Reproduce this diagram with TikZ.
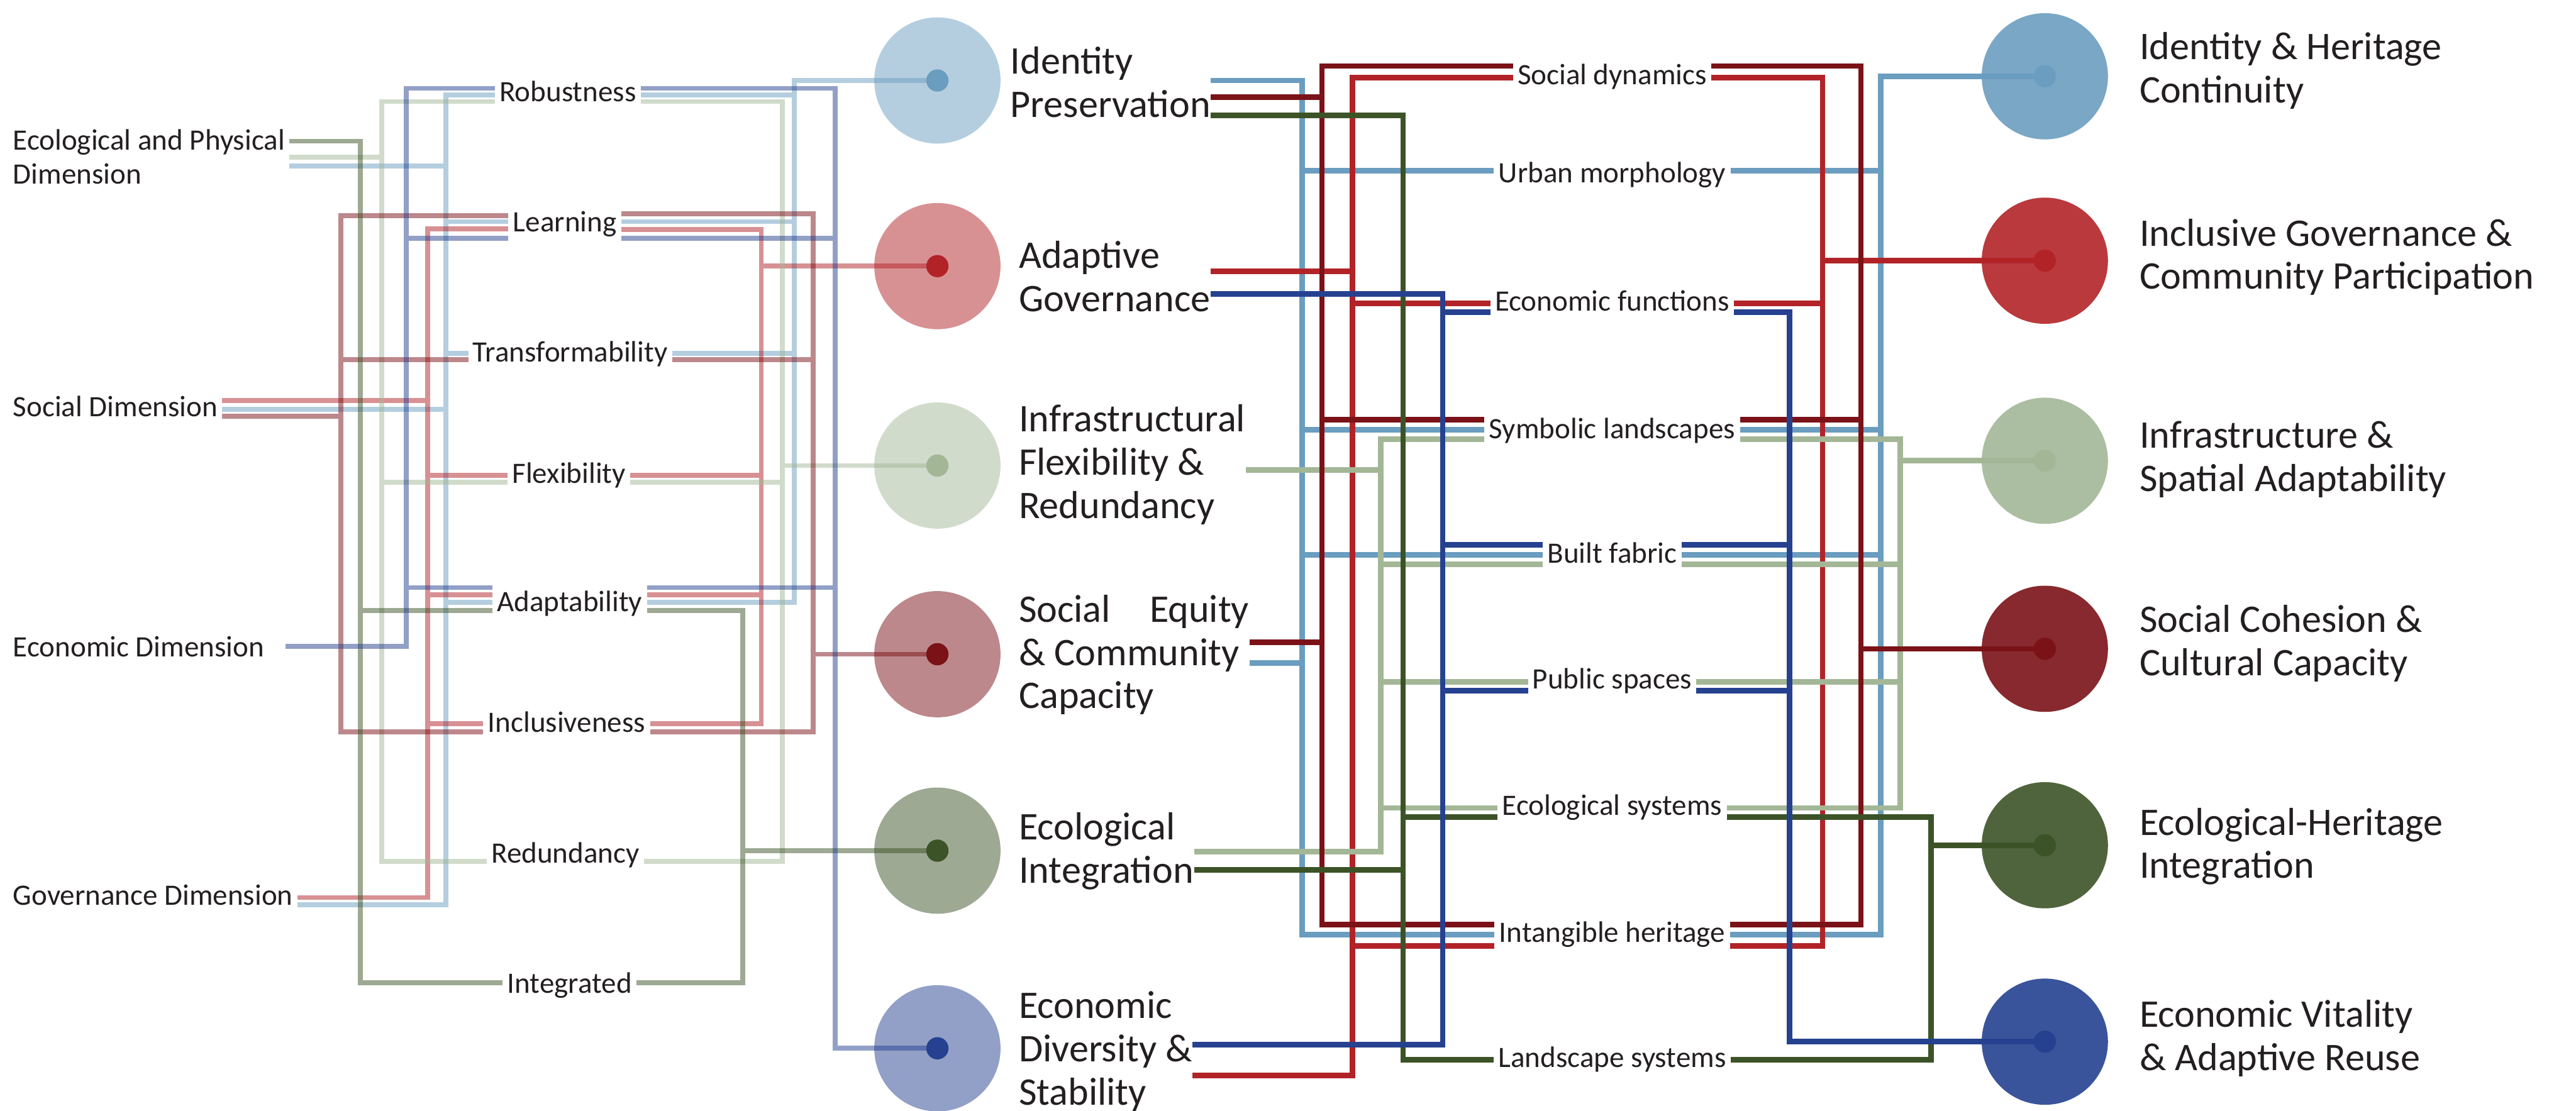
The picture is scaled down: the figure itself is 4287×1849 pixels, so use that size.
\documentclass[tikz,border=0pt]{standalone}
\usepackage{fontspec}
\setmainfont{Carlito}
\usetikzlibrary{positioning}
\definecolor{cBlue}{HTML}{6A9DBF}
\definecolor{cRed}{HTML}{B22328}
\definecolor{cSage}{HTML}{A3B797}
\definecolor{cWine}{HTML}{7A1217}
\definecolor{cFor}{HTML}{3C5327}
\definecolor{cNavy}{HTML}{254190}
\definecolor{ink}{HTML}{231F20}
\tikzset{
  lbl/.style={font=\fontsize{14}{16.2}\selectfont, text=ink, inner xsep=2pt, inner ysep=0pt},
  big/.style={font=\fontsize{18.5}{20.5}\selectfont, text=ink, align=left, anchor=west, inner sep=0pt},
  disc/.style={circle, minimum size=2.1cm, inner sep=0pt, fill=#1, fill opacity=0.5},
  rdisc/.style={circle, minimum size=2.1cm, inner sep=0pt, fill=#1, fill opacity=0.9},
  core/.style={circle, minimum size=0.37cm, inner sep=0pt, fill=#1},
  pale/.style={draw=#1, draw opacity=0.5, line width=2.3pt},
  wire/.style={draw=#1, line width=2.6pt},
}

\begin{document}
\begin{tikzpicture}[x=0.01cm, y=-0.01cm]
  \useasboundingbox (0,0) rectangle (4287,1849);

  % dimensions
  \node[lbl, anchor=west, align=left] (dEco) at (14,261) {Ecological and Physical\\Dimension};
  \node[lbl, anchor=base west] (dSoc) at (14,693) {Social Dimension};
  \node[lbl, anchor=base west, inner xsep=10pt] (dEcon) at (-14,1093) {Economic Dimension};
  \node[lbl, anchor=base west] (dGov) at (14,1507) {Governance Dimension};

  % indicators
  \node[lbl, anchor=base] (iRob) at (945,169) {Robustness};
  \node[lbl, anchor=base] (iLea) at (940,386) {Learning};
  \node[lbl, anchor=base] (iTra) at (949,602) {Transformability};
  \node[lbl, anchor=base] (iFle) at (947,804) {Flexibility};
  \node[lbl, anchor=base] (iAda) at (948,1018) {Adaptability};
  \node[lbl, anchor=base] (iInc) at (943,1219) {Inclusiveness};
  \node[lbl, anchor=base] (iRed) at (941,1436) {Redundancy};
  \node[lbl, anchor=base] (iInt) at (948,1653) {Integrated};

  % middle circles
  \node[disc=cBlue] (c1) at (1560,134) {};
  \node[disc=cRed] (c2) at (1560,443) {};
  \node[disc=cSage] (c3) at (1560,775) {};
  \node[disc=cWine] (c4) at (1560,1089) {};
  \node[disc=cFor] (c5) at (1560,1416) {};
  \node[disc=cNavy] (c6) at (1560,1745) {};

  \node[big] (t1) at (1681,137) {Identity\\Preservation};
  \node[big] (t2) at (1695,460) {Adaptive\\Governance};
  \node[big] (t3) at (1695,773) {Infrastructural\\Flexibility \&\\Redundancy};
  \node[big] (t4) at (1695,1090) {Social\hspace{1em}Equity\\\& Community\\Capacity};
  \node[big] (t5) at (1695,1417) {Ecological\\Integration};
  \node[big] (t6) at (1695,1750) {Economic\\Diversity \&\\Stability};

  % attributes
  \node[lbl, anchor=base] (aSoc) at (2683,141) {Social dynamics};
  \node[lbl, anchor=base] (aUrb) at (2683,304) {Urban morphology};
  \node[lbl, anchor=base] (aEco) at (2683,518) {Economic functions};
  \node[lbl, anchor=base] (aSym) at (2683,730) {Symbolic landscapes};
  \node[lbl, anchor=base] (aBui) at (2683,937) {Built fabric};
  \node[lbl, anchor=base] (aPub) at (2683,1147) {Public spaces};
  \node[lbl, anchor=base] (aEcs) at (2683,1357) {Ecological systems};
  \node[lbl, anchor=base] (aInt) at (2683,1568) {Intangible heritage};
  \node[lbl, anchor=base] (aLan) at (2683,1777) {Landscape systems};

  % right circles
  \node[rdisc=cBlue] (r1) at (3403,127) {};
  \node[rdisc=cRed] (r2) at (3403,434) {};
  \node[rdisc=cSage] (r3) at (3403,767) {};
  \node[rdisc=cWine] (r4) at (3403,1080) {};
  \node[rdisc=cFor] (r5) at (3403,1407) {};
  \node[rdisc=cNavy] (r6) at (3403,1734) {};

  \node[big] (u1) at (3560,118) {Identity \& Heritage\\Continuity};
  \node[big] (u2) at (3560,428) {Inclusive Governance \&\\Community Participation};
  \node[big] (u3) at (3560,765) {Infrastructure \&\\Spatial Adaptability};
  \node[big] (u4) at (3560,1071) {Social Cohesion \&\\Cultural Capacity};
  \node[big] (u5) at (3560,1409) {Ecological-Heritage\\Integration};
  \node[big] (u6) at (3560,1728) {Economic Vitality\\\& Adaptive Reuse};

  % left half, one bus per colour
  \draw[pale=cBlue]
    (dEco.east |- 0,276) -- (742,276)
    (dSoc.east |- 0,681) -- (742,681)
    (dGov.east |- 0,1506) -- (742,1506) -- (742,158) -- (iRob.west |- 0,158)
    (742,369) -- (iLea.west |- 0,369)
    (742,588) -- (iTra.west |- 0,588)
    (742,1003) -- (iAda.west |- 0,1003)
    (iRob.east |- 0,158) -- (1322,158)
    (iLea.east |- 0,369) -- (1322,369)
    (iTra.east |- 0,588) -- (1322,588)
    (iAda.east |- 0,1003) -- (1322,1003) -- (1322,134) -- (c1.center);
  \draw[pale=cRed]
    (dSoc.east |- 0,667) -- (712,667)
    (dGov.east |- 0,1494) -- (712,1494) -- (712,381) -- (iLea.west |- 0,381)
    (712,791) -- (iFle.west |- 0,791)
    (712,990) -- (iAda.west |- 0,990)
    (712,1205) -- (iInc.west |- 0,1205)
    (iLea.east |- 0,382) -- (1267,382) -- (1267,1205) -- (iInc.east |- 0,1205)
    (iFle.east |- 0,791) -- (1267,791)
    (iAda.east |- 0,990) -- (1267,990)
    (1267,443) -- (c2.center);
  \draw[pale=cSage]
    (dEco.east |- 0,262) -- (635,262)
    (iRob.west |- 0,169) -- (635,169) -- (635,1434) -- (iRed.west |- 0,1434)
    (635,803) -- (iFle.west |- 0,803)
    (iRob.east |- 0,169) -- (1302,169) -- (1302,1434) -- (iRed.east |- 0,1434)
    (iFle.east |- 0,803) -- (1302,803)
    (1302,775) -- (c3.center);
  \draw[pale=cWine]
    (dSoc.east |- 0,693) -- (567,693)
    (iLea.west |- 0,359) -- (567,359) -- (567,1218) -- (iInc.west |- 0,1218)
    (567,599) -- (iTra.west |- 0,599)
    (iLea.east |- 0,356) -- (1353,356) -- (1353,1218) -- (iInc.east |- 0,1218)
    (iTra.east |- 0,599) -- (1353,599)
    (1353,1089) -- (c4.center);
  \draw[pale=cFor]
    (dEco.east |- 0,235) -- (600,235) -- (600,1636) -- (iInt.west |- 0,1636)
    (600,1016) -- (iAda.west |- 0,1016)
    (iAda.east |- 0,1016) -- (1236,1016) -- (1236,1636) -- (iInt.east |- 0,1636)
    (1236,1416) -- (c5.center);
  \draw[pale=cNavy]
    (dEcon.east |- 0,1076) -- (676,1076) -- (676,147) -- (iRob.west |- 0,147)
    (676,397) -- (iLea.west |- 0,397)
    (676,978) -- (iAda.west |- 0,978)
    (iRob.east |- 0,147) -- (1390,147) -- (1390,1745) -- (c6.center)
    (iLea.east |- 0,397) -- (1390,397)
    (iAda.east |- 0,978) -- (1390,978);

  % right half
  \draw[wire=cBlue]
    (t1.east |- 0,134) -- (2167,134) -- (2167,1556) -- (aInt.west |- 0,1556)
    (t4.east |- 0,1104) -- (2167,1104)
    (2167,284) -- (aUrb.west |- 0,284)
    (2167,715) -- (aSym.west |- 0,715)
    (2167,924) -- (aBui.west |- 0,924)
    (aUrb.east |- 0,284) -- (3130,284)
    (aSym.east |- 0,715) -- (3130,715)
    (aBui.east |- 0,924) -- (3130,924)
    (aInt.east |- 0,1556) -- (3130,1556) -- (3130,127) -- (r1.center);
  \draw[wire=cRed]
    (t2.east |- 0,452) -- (2251,452)
    (t6.east |- 0,1790) -- (2251,1790) -- (2251,129) -- (aSoc.west |- 0,129)
    (2251,505) -- (aEco.west |- 0,505)
    (2251,1575) -- (aInt.west |- 0,1575)
    (aSoc.east |- 0,129) -- (3033,129) -- (3033,1575) -- (aInt.east |- 0,1575)
    (aEco.east |- 0,505) -- (3033,505)
    (3033,434) -- (r2.center);
  \draw[wire=cSage]
    (t3.east |- 0,782) -- (2298,782)
    (t5.east |- 0,1418) -- (2298,1418) -- (2298,731) -- (aSym.west |- 0,731)
    (2298,939) -- (aBui.west |- 0,939)
    (2298,1135) -- (aPub.west |- 0,1135)
    (2298,1345) -- (aEcs.west |- 0,1345)
    (aSym.east |- 0,731) -- (3162,731) -- (3162,1345) -- (aEcs.east |- 0,1345)
    (aBui.east |- 0,939) -- (3162,939)
    (aPub.east |- 0,1135) -- (3162,1135)
    (3162,767) -- (r3.center);
  \draw[wire=cWine]
    (t1.east |- 0,162) -- (2200,162)
    (t4.east |- 0,1069) -- (2200,1069)
    (aSoc.west |- 0,110) -- (2200,110) -- (2200,1539) -- (aInt.west |- 0,1539)
    (2200,699) -- (aSym.west |- 0,699)
    (aSoc.east |- 0,110) -- (3097,110) -- (3097,1539) -- (aInt.east |- 0,1539)
    (aSym.east |- 0,699) -- (3097,699)
    (3097,1080) -- (r4.center);
  \draw[wire=cFor]
    (t1.east |- 0,192) -- (2335,192) -- (2335,1764) -- (aLan.west |- 0,1764)
    (t5.east |- 0,1448) -- (2335,1448)
    (2335,1360) -- (aEcs.west |- 0,1360)
    (aEcs.east |- 0,1360) -- (3214,1360) -- (3214,1764) -- (aLan.east |- 0,1764)
    (3214,1407) -- (r5.center);
  \draw[wire=cNavy]
    (t2.east |- 0,489) -- (2401,489) -- (2401,1739) -- (t6.east |- 0,1739)
    (2401,520) -- (aEco.west |- 0,520)
    (2401,907) -- (aBui.west |- 0,907)
    (2401,1150) -- (aPub.west |- 0,1150)
    (aEco.east |- 0,520) -- (2978,520) -- (2978,1734) -- (r6.center)
    (aBui.east |- 0,907) -- (2978,907)
    (aPub.east |- 0,1150) -- (2978,1150);

  % dots on top
  \node[core=cBlue] (p1) at (c1) {};
  \node[core=cRed] (p2) at (c2) {};
  \node[core=cSage] (p3) at (c3) {};
  \node[core=cWine] (p4) at (c4) {};
  \node[core=cFor] (p5) at (c5) {};
  \node[core=cNavy] (p6) at (c6) {};
  \node[core=cBlue] (q1) at (r1) {};
  \node[core=cRed] (q2) at (r2) {};
  \node[core=cSage] (q3) at (r3) {};
  \node[core=cWine] (q4) at (r4) {};
  \node[core=cFor] (q5) at (r5) {};
  \node[core=cNavy] (q6) at (r6) {};
\end{tikzpicture}
\end{document}
